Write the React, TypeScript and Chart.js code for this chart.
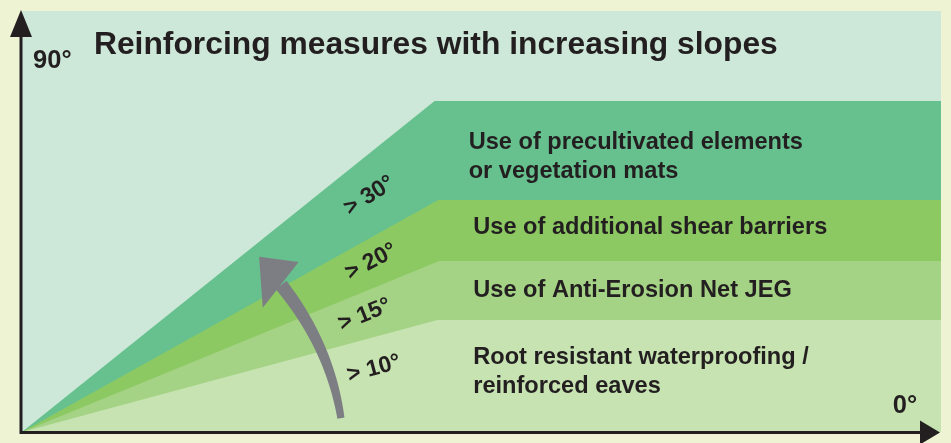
import React, { useEffect, useRef } from "react";
import Chart from "chart.js/auto";

// ---- data (x: horizontal extent 0..100, y: slope height 0..100) ----
const bandNames = [
  "Root resistant waterproofing / reinforced eaves",
  "Use of Anti-Erosion Net JEG",
  "Use of additional shear barriers",
  "Use of precultivated elements or vegetation mats",
];
const bandKneeX = [45.2, 45.4, 45.3, 44.9];
const bandTop = [26.6, 40.6, 55.1, 78.6];
const thresholds = ["> 10°", "> 15°", "> 20°", "> 30°"];
const bandColors = ["#C6E3B1", "#A5D385", "#8DC963", "#66C18E"];
const axisLabels = ["90°", "0°"];
const title = "Reinforcing measures with increasing slopes";

// label lines for each band (left aligned) with their baseline positions in data units
const bandLabelLines = [
  ["Root resistant waterproofing /", "reinforced eaves"],
  ["Use of Anti-Erosion Net JEG"],
  ["Use of additional shear barriers"],
  ["Use of precultivated elements", "or vegetation mats"],
];

// annotation placement (data units)
const bandLabelX = [49.1, 49.1, 49.1, 48.6];
const bandLabelY = [[16.2, 9.3], [32.1], [47.0], [67.2, 60.3]];
const thresholdPos = [
  { x: 38.3, y: 15.0, rot: -15 },
  { x: 37.3, y: 27.8, rot: -22 },
  { x: 38.0, y: 40.4, rot: -28 },
  { x: 37.8, y: 56.1, rot: -32 },
];

const PAGE_BG = "#EEF3D4";
const PANEL_BG = "#CDE8D8";
const INK = "#231F20";
const ARROW_GREY = "#7D7E84";
const FONT = "'Liberation Sans', Arial, Helvetica, sans-serif";

const decorPlugin = {
  id: "decor",
  beforeDraw(chart: any) {
    const { ctx, chartArea: a } = chart;
    ctx.save();
    ctx.fillStyle = PAGE_BG;
    ctx.fillRect(0, 0, chart.width, chart.height);
    ctx.fillStyle = PANEL_BG;
    ctx.fillRect(a.left, a.top, a.right - a.left, a.bottom - a.top);
    ctx.restore();
  },
  afterDraw(chart: any) {
    const { ctx, chartArea: a } = chart;
    const xs = chart.scales.x;
    const ys = chart.scales.y;
    const px = (v: number) => xs.getPixelForValue(v);
    const py = (v: number) => ys.getPixelForValue(v);
    ctx.save();

    // curved grey arrow
    const p0 = { x: px(34.7), y: py(3.3) };
    const c = { x: px(33.5), y: py(20.4) };
    const p2 = { x: px(28.2), y: py(34.9) };
    const N = 40;
    const left: any[] = [];
    const right: any[] = [];
    for (let i = 0; i <= N; i++) {
      const t = i / N;
      const x = (1 - t) * (1 - t) * p0.x + 2 * (1 - t) * t * c.x + t * t * p2.x;
      const y = (1 - t) * (1 - t) * p0.y + 2 * (1 - t) * t * c.y + t * t * p2.y;
      const dx = 2 * (1 - t) * (c.x - p0.x) + 2 * t * (p2.x - c.x);
      const dy = 2 * (1 - t) * (c.y - p0.y) + 2 * t * (p2.y - c.y);
      const len = Math.hypot(dx, dy) || 1;
      const nx = -dy / len;
      const ny = dx / len;
      const hw = 3.6 + 3.2 * t;
      left.push({ x: x + nx * hw, y: y + ny * hw });
      right.push({ x: x - nx * hw, y: y - ny * hw });
    }
    ctx.fillStyle = ARROW_GREY;
    ctx.beginPath();
    left.forEach((p, i) => (i ? ctx.lineTo(p.x, p.y) : ctx.moveTo(p.x, p.y)));
    for (let i = right.length - 1; i >= 0; i--) ctx.lineTo(right[i].x, right[i].y);
    ctx.closePath();
    ctx.fill();
    ctx.beginPath();
    ctx.moveTo(px(25.8), py(41.6));
    ctx.lineTo(px(30.1), py(40.4));
    ctx.lineTo(px(26.2), py(29.5));
    ctx.closePath();
    ctx.fill();

    // axes with arrow heads
    ctx.strokeStyle = INK;
    ctx.fillStyle = INK;
    ctx.lineWidth = 3;
    const ox = a.left - 1;
    const oy = a.bottom + 0.5;
    ctx.beginPath();
    ctx.moveTo(ox, oy + 1.5);
    ctx.lineTo(ox, a.top + 24);
    ctx.moveTo(ox - 1.5, oy);
    ctx.lineTo(a.right - 18, oy);
    ctx.stroke();
    ctx.beginPath();
    ctx.moveTo(ox, a.top - 1);
    ctx.lineTo(ox - 11, a.top + 26);
    ctx.lineTo(ox + 11, a.top + 26);
    ctx.closePath();
    ctx.fill();
    ctx.beginPath();
    ctx.moveTo(a.right - 1, oy);
    ctx.lineTo(a.right - 21, oy - 12);
    ctx.lineTo(a.right - 21, oy + 12);
    ctx.closePath();
    ctx.fill();

    // texts
    ctx.fillStyle = INK;
    ctx.textBaseline = "alphabetic";
    ctx.textAlign = "left";
    ctx.font = `bold 31.8px ${FONT}`;
    ctx.fillText(title, px(7.83), py(89.8));
    ctx.font = `bold 25.5px ${FONT}`;
    ctx.fillText(axisLabels[0], px(1.2), py(86.5));
    ctx.textAlign = "right";
    ctx.fillText(axisLabels[1], px(97.4), py(4.5));

    ctx.textAlign = "left";
    ctx.font = `bold 23.6px ${FONT}`;
    bandLabelLines.forEach((lines, i) => {
      lines.forEach((line, j) => {
        ctx.fillText(line, px(bandLabelX[i]), py(bandLabelY[i][j]));
      });
    });

    ctx.font = `bold 23px ${FONT}`;
    ctx.textAlign = "center";
    ctx.textBaseline = "middle";
    thresholds.forEach((t, i) => {
      const p = thresholdPos[i];
      ctx.save();
      ctx.translate(px(p.x), py(p.y));
      ctx.rotate((p.rot * Math.PI) / 180);
      ctx.fillText(t, 0, 0);
      ctx.restore();
    });
    ctx.restore();
  },
};

export default function App() {
  const ref = useRef<HTMLCanvasElement | null>(null);
  useEffect(() => {
    if (!ref.current) return;
    const datasets = bandNames.map((name, i) => ({
      label: name,
      data: [
        { x: 0, y: 0 },
        { x: bandKneeX[i], y: bandTop[i] },
        { x: 100, y: bandTop[i] },
      ],
      backgroundColor: bandColors[i],
      borderColor: bandColors[i],
      borderWidth: 0,
      pointRadius: 0,
      tension: 0,
      fill: "origin",
    }));
    const chart = new Chart(ref.current, {
      type: "line",
      data: { datasets },
      options: {
        animation: false,
        responsive: false,
        layout: { padding: { left: 22, top: 11, right: 10, bottom: 11 } },
        scales: {
          x: { type: "linear", min: 0, max: 100, display: false },
          y: { type: "linear", min: 0, max: 100, display: false },
        },
        plugins: { legend: { display: false }, tooltip: { enabled: false }, title: { display: false } },
      },
      plugins: [decorPlugin],
    });
    return () => chart.destroy();
  }, []);
  return (
    <div style={{ position: "fixed", left: 0, top: 0, width: 951, height: 443, background: PAGE_BG }}>
      <canvas ref={ref} width={951} height={443} style={{ display: "block" }} />
    </div>
  );
}
